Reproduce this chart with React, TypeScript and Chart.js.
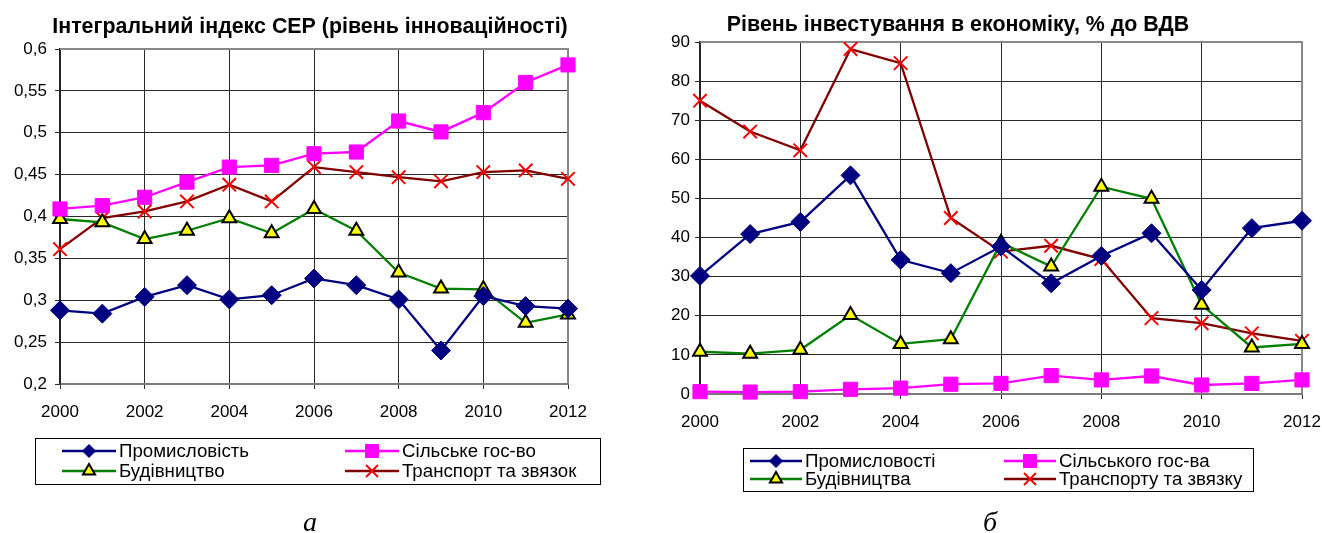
import React, { useEffect, useRef } from 'react';
import { Chart, registerables } from 'chart.js';

Chart.register(...registerables);

// ---------- data ----------
const YEARS = [2000, 2001, 2002, 2003, 2004, 2005, 2006, 2007, 2008, 2009, 2010, 2011, 2012];
const X_TICKS = [2000, 2002, 2004, 2006, 2008, 2010, 2012];

const LEFT_TITLE = 'Інтегральний індекс СЕР (рівень інноваційності)';
const LEFT_NAMES = ['Промисловість', 'Сільське гос-во', 'Будівництво', 'Транспорт та звязок'];
const LEFT_Y_TICKS = [0.2, 0.25, 0.3, 0.35, 0.4, 0.45, 0.5, 0.55, 0.6];
const LEFT_INDUSTRY = [0.288, 0.284, 0.304, 0.318, 0.301, 0.306, 0.326, 0.318, 0.301, 0.24, 0.305, 0.293, 0.29];
const LEFT_AGRI = [0.409, 0.413, 0.423, 0.441, 0.459, 0.461, 0.475, 0.477, 0.514, 0.501, 0.524, 0.56, 0.581];
const LEFT_CONSTR = [0.397, 0.393, 0.373, 0.383, 0.398, 0.38, 0.409, 0.383, 0.333, 0.314, 0.313, 0.273, 0.283];
const LEFT_TRANSPORT = [0.361, 0.398, 0.406, 0.418, 0.438, 0.418, 0.459, 0.453, 0.447, 0.442, 0.453, 0.455, 0.445];

const RIGHT_TITLE = 'Рівень інвестування в економіку, % до ВДВ';
const RIGHT_NAMES = ['Промисловості', 'Сільського гос-ва', 'Будівництва', 'Транспорту та звязку'];
const RIGHT_Y_TICKS = [0, 10, 20, 30, 40, 50, 60, 70, 80, 90];
const RIGHT_INDUSTRY = [30.2, 40.9, 44.0, 55.9, 34.3, 30.9, 37.7, 28.3, 35.3, 41.1, 26.6, 42.4, 44.3];
const RIGHT_AGRI = [0.6, 0.5, 0.6, 1.2, 1.5, 2.5, 2.7, 4.7, 3.6, 4.6, 2.3, 2.7, 3.6];
const RIGHT_CONSTR = [10.8, 10.3, 11.3, 20.2, 12.8, 14.0, 38.7, 32.6, 53.0, 49.9, 22.8, 11.9, 12.8];
const RIGHT_TRANSPORT = [75.0, 67.1, 62.3, 88.2, 84.6, 45.0, 36.4, 37.9, 34.5, 19.4, 18.1, 15.5, 13.6];

const CAPTIONS = ['а', 'б'];

// ---------- styles ----------
const FONT = '"Liberation Sans", Arial, sans-serif';
const STYLES = [
  { line: '#000080', style: 'rectRot', radius: 9.5, bg: '#000080', border: '#000080', bw: 1 },
  { line: '#FF00FF', style: 'rect', radius: 10, bg: '#FF00FF', border: '#FF00FF', bw: 1 },
  { line: '#008000', style: 'triangle', radius: 8, bg: '#FFFF00', border: '#000000', bw: 2 },
  { line: '#800000', style: 'crossRot', radius: 9.5, bg: '#FF0000', border: '#FF0000', bw: 2 },
];

function drawMarker(ctx: CanvasRenderingContext2D, i: number, x: number, y: number) {
  const s = STYLES[i];
  ctx.save();
  ctx.fillStyle = s.bg;
  ctx.strokeStyle = s.border;
  ctx.lineWidth = s.bw;
  ctx.beginPath();
  if (s.style === 'rectRot') {
    const r = 6.5;
    ctx.moveTo(x, y - r); ctx.lineTo(x + r, y); ctx.lineTo(x, y + r); ctx.lineTo(x - r, y); ctx.closePath();
    ctx.fill(); ctx.stroke();
  } else if (s.style === 'rect') {
    const h = 6.5;
    ctx.rect(x - h, y - h, 2 * h, 2 * h); ctx.fill(); ctx.stroke();
  } else if (s.style === 'triangle') {
    const r = 7;
    ctx.moveTo(x, y - r); ctx.lineTo(x + r * 0.866, y + r * 0.5); ctx.lineTo(x - r * 0.866, y + r * 0.5); ctx.closePath();
    ctx.fill(); ctx.stroke();
  } else {
    const h = 6;
    ctx.moveTo(x - h, y - h); ctx.lineTo(x + h, y + h); ctx.moveTo(x + h, y - h); ctx.lineTo(x - h, y + h);
    ctx.stroke();
  }
  ctx.restore();
}

type Spec = {
  left: number; width: number; height: number;
  area: { left: number; right: number; top: number; bottom: number };
  yTicks: number[]; yPad: number;
  series: number[][]; names: string[];
  title: string; titleX: number; titleY: number; titleSize: number;
  legend: { x: number; y: number; w: number; h: number; rows: number[]; cols: number[]; lineLen: number; font: number };
  xLabelPad: number;
};

function fmt(v: number) {
  return String(Math.round(v * 1000) / 1000).replace('.', ',');
}

function LineChart({ spec }: { spec: Spec }) {
  const ref = useRef<HTMLCanvasElement | null>(null);
  useEffect(() => {
    const canvas = ref.current;
    if (!canvas) return;
    const a = spec.area;
    const decor = {
      id: 'decor',
      beforeDatasetsDraw(chart: any) {
        const ctx = chart.ctx as CanvasRenderingContext2D;
        const ca = chart.chartArea;
        ctx.save();
        ctx.strokeStyle = '#888888';
        ctx.lineWidth = 2;
        ctx.beginPath();
        ctx.moveTo(ca.left, ca.top);
        ctx.lineTo(ca.right, ca.top);
        ctx.lineTo(ca.right, ca.bottom);
        ctx.stroke();
        ctx.restore();
      },
      afterDraw(chart: any) {
        const ctx = chart.ctx as CanvasRenderingContext2D;
        ctx.save();
        // title
        ctx.fillStyle = '#000';
        ctx.font = `bold ${spec.titleSize}px ${FONT}`;
        ctx.textAlign = 'center';
        ctx.textBaseline = 'middle';
        ctx.fillText(spec.title, spec.titleX, spec.titleY);
        // legend
        const L = spec.legend;
        ctx.strokeStyle = '#000';
        ctx.lineWidth = 1;
        ctx.strokeRect(L.x + 0.5, L.y + 0.5, L.w, L.h);
        ctx.font = `${L.font}px ${FONT}`;
        ctx.textAlign = 'left';
        for (let i = 0; i < 4; i++) {
          const cx = L.cols[i % 2];
          const cy = L.rows[Math.floor(i / 2)];
          ctx.strokeStyle = STYLES[i].line;
          ctx.lineWidth = 2.5;
          ctx.beginPath();
          ctx.moveTo(cx, cy);
          ctx.lineTo(cx + L.lineLen, cy);
          ctx.stroke();
          drawMarker(ctx, i, cx + L.lineLen / 2, cy);
          ctx.fillStyle = '#000';
          ctx.fillText(spec.names[i], cx + L.lineLen + 3, cy + 1);
        }
        ctx.restore();
      },
    };

    const datasets = spec.series.map((vals, i) => {
      const s = STYLES[i];
      return {
        label: spec.names[i],
        data: YEARS.map((yr, j) => ({ x: yr, y: vals[j] })),
        borderColor: s.line,
        borderWidth: 2.3,
        backgroundColor: s.bg,
        pointStyle: s.style,
        pointRadius: s.radius,
        pointBackgroundColor: s.bg,
        pointBorderColor: s.border,
        pointBorderWidth: s.bw,
        tension: 0,
        clip: false as any,
      };
    });

    const chart = new Chart(canvas, {
      type: 'line',
      data: { datasets },
      plugins: [decor],
      options: {
        animation: false,
        responsive: false,
        events: [],
        layout: {
          padding: { left: 0, top: a.top, right: spec.width - a.right, bottom: spec.height - a.bottom - 40 },
        },
        plugins: { legend: { display: false }, title: { display: false }, tooltip: { enabled: false } },
        scales: {
          x: {
            type: 'linear',
            min: YEARS[0],
            max: YEARS[YEARS.length - 1],
            afterBuildTicks: (scale: any) => { scale.ticks = X_TICKS.map((v) => ({ value: v })); },
            afterFit: (scale: any) => { scale.height = 40; scale.paddingLeft = 0; scale.paddingRight = 0; },
            ticks: {
              autoSkip: false,
              maxRotation: 0,
              padding: spec.xLabelPad,
              color: '#000',
              font: { family: FONT, size: 17 },
              callback: (v: any) => String(v),
            },
            grid: { color: '#2a2a2a', lineWidth: 1, tickLength: 5, drawTicks: true },
            border: { color: '#7a7a7a', width: 2 },
          },
          y: {
            type: 'linear',
            min: spec.yTicks[0],
            max: spec.yTicks[spec.yTicks.length - 1],
            afterBuildTicks: (scale: any) => { scale.ticks = spec.yTicks.map((v) => ({ value: v })); },
            afterFit: (scale: any) => { scale.width = a.left; scale.paddingTop = 0; scale.paddingBottom = 0; },
            ticks: {
              autoSkip: false,
              padding: spec.yPad,
              color: '#000',
              font: { family: FONT, size: 17 },
              callback: (v: any) => fmt(Number(v)),
            },
            grid: { color: '#2a2a2a', lineWidth: 1, tickLength: 5, drawTicks: true },
            border: { color: '#222222', width: 1.5 },
          },
        },
      } as any,
    });
    return () => chart.destroy();
  }, [spec]);
  return (
    <canvas
      ref={ref}
      width={spec.width}
      height={spec.height}
      style={{ position: 'absolute', left: spec.left, top: 0, width: spec.width, height: spec.height }}
    />
  );
}

const LEFT_SPEC: Spec = {
  left: 0, width: 640, height: 533,
  area: { left: 60, right: 568, top: 49, bottom: 384 },
  yTicks: LEFT_Y_TICKS, yPad: 8,
  series: [LEFT_INDUSTRY, LEFT_AGRI, LEFT_CONSTR, LEFT_TRANSPORT],
  names: LEFT_NAMES,
  title: LEFT_TITLE, titleX: 310, titleY: 27, titleSize: 21.4,
  legend: { x: 35, y: 438, w: 565, h: 46, rows: [451, 471], cols: [62, 345], lineLen: 54, font: 18.7 },
  xLabelPad: 13,
};

const RIGHT_SPEC: Spec = {
  left: 640, width: 682, height: 533,
  area: { left: 60, right: 662, top: 42, bottom: 394 },
  yTicks: RIGHT_Y_TICKS, yPad: 5,
  series: [RIGHT_INDUSTRY, RIGHT_AGRI, RIGHT_CONSTR, RIGHT_TRANSPORT],
  names: RIGHT_NAMES,
  title: RIGHT_TITLE, titleX: 318, titleY: 25, titleSize: 21.4,
  legend: { x: 103, y: 448, w: 510, h: 43, rows: [461, 479], cols: [110, 364], lineLen: 52, font: 18.7 },
  xLabelPad: 13,
};

export default function App() {
  return (
    <div style={{ position: 'fixed', left: 0, top: 0, width: 1322, height: 533, background: '#fff', overflow: 'hidden' }}>
      <LineChart spec={LEFT_SPEC} />
      <LineChart spec={RIGHT_SPEC} />
      <div style={{ position: 'absolute', left: 280, width: 60, top: 504, textAlign: 'center', font: 'italic 28px "Liberation Serif", "Times New Roman", serif', lineHeight: '36px' }}>
        {CAPTIONS[0]}
      </div>
      <div style={{ position: 'absolute', left: 960, width: 60, top: 504, textAlign: 'center', font: 'italic 28px "Liberation Serif", "Times New Roman", serif', lineHeight: '36px' }}>
        {CAPTIONS[1]}
      </div>
    </div>
  );
}
